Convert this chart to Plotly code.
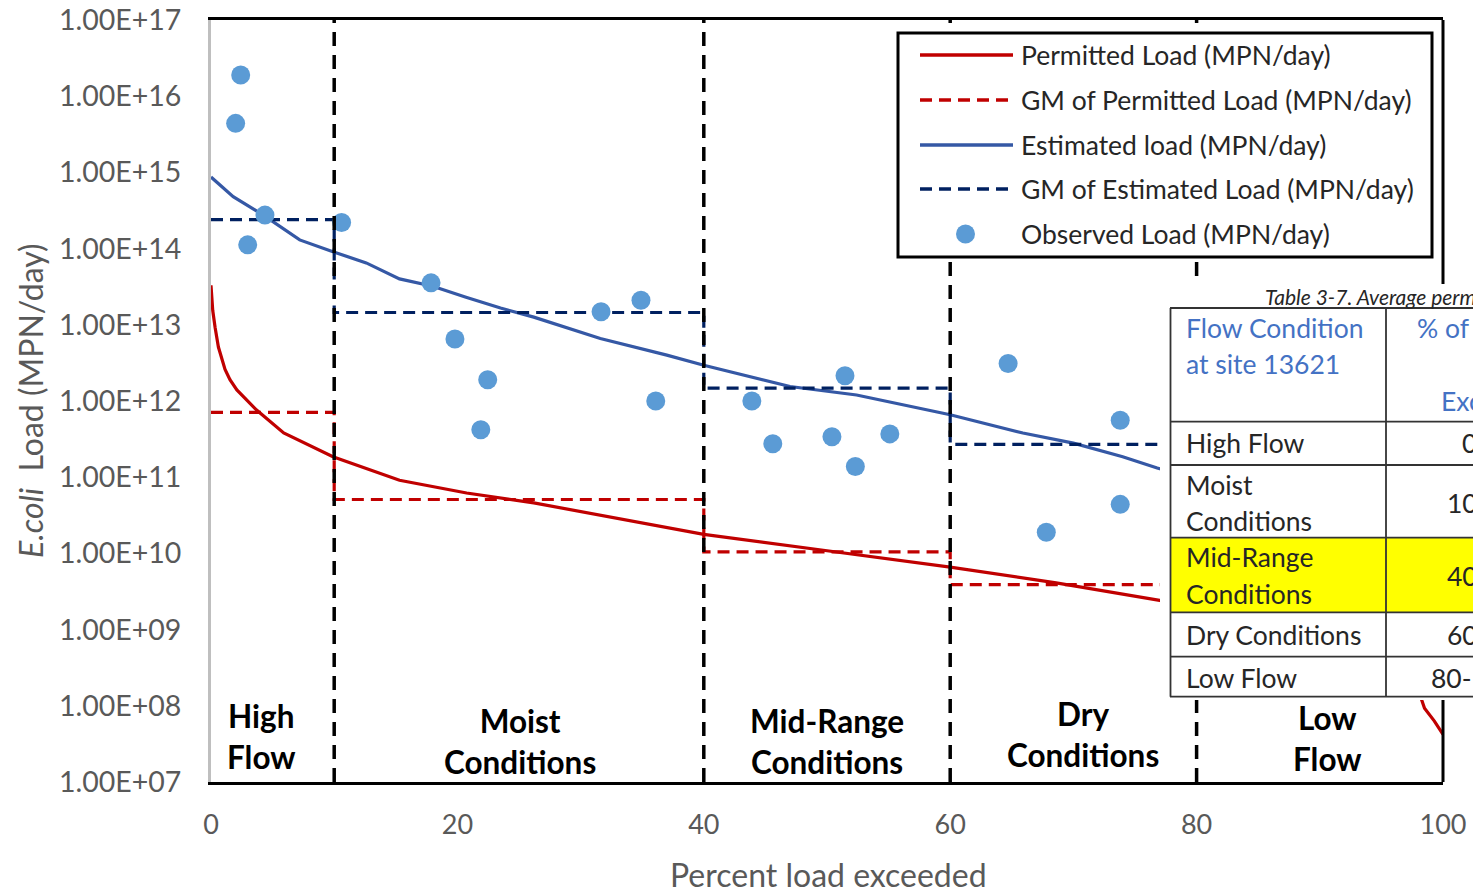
import plotly.graph_objects as go

# ---------------- data ----------------
pct_est = [0, 1.8, 4.25, 7.2, 9.9, 12.6, 15.3, 18.0, 20.7, 23.5, 26.2, 31.6, 37.0, 40.0,
           47.0, 52.4, 60.0, 65.9, 70.0, 74.0, 76.8, 80, 85, 90, 95, 100]
est_load = [8.7e14, 4.8e14, 2.75e14, 1.3e14, 9.1e13, 6.5e13, 4.0e13, 3.2e13, 2.3e13, 1.66e13,
            1.26e13, 6.6e12, 4.0e12, 2.95e12, 1.55e12, 1.2e12, 6.6e11, 3.8e11, 2.8e11,
            1.86e11, 1.32e11, 9.5e10, 5.0e10, 2.5e10, 1.0e10, 1.6e9]

pct_perm = [0, 0.14, 0.33, 0.6, 1.14, 1.54, 2.1, 3.7, 5.9, 9.9, 15.3, 20.75, 26.2, 31.6, 37.0,
            40.0, 49.7, 60.0, 68.6, 76.8, 80, 85, 90, 95, 98, 98.5, 99.3, 100]
perm_load = [3.3e13, 1.55e13, 9.3e12, 5.1e12, 2.6e12, 1.9e12, 1.4e12, 7.6e11, 3.8e11, 1.86e11,
             9.1e10, 6.2e10, 4.6e10, 3.2e10, 2.2e10, 1.78e10, 1.1e10, 6.6e9, 4.1e9, 2.45e9,
             2.0e9, 1.26e9, 7.1e8, 3.5e8, 1.6e8, 9.3e7, 6.3e7, 4.2e7]

gm_edges = [0, 10, 40, 60, 80, 100]
gm_est = [2.4e14, 1.45e13, 1.48e12, 2.7e11, 1.0e10]
gm_perm = [7.1e11, 5.1e10, 1.05e10, 3.9e9, 4.0e8]

obs_pct = [2.41, 2.0, 4.38, 2.98, 10.6, 17.86, 19.8, 22.46, 21.9, 31.66, 34.9, 36.1,
           43.9, 45.6, 51.46, 50.4, 52.3, 55.1, 64.7, 67.8, 73.8, 73.8]
obs_load = [1.9e16, 4.4e15, 2.75e14, 1.12e14, 2.2e14, 3.55e13, 6.5e12, 1.9e12, 4.2e11,
            1.48e13, 2.1e13, 1.0e12, 1.0e12, 2.75e11, 2.15e12, 3.4e11, 1.38e11, 3.7e11,
            3.1e12, 1.9e10, 5.6e11, 4.4e10]

boundaries = [10, 40, 60, 80]
region_names = ["High<br>Flow", "Moist<br>Conditions", "Mid-Range<br>Conditions",
                "Dry<br>Conditions", "Low<br>Flow"]
region_centers = [4.1, 25.1, 50.0, 70.8, 90.6]

y_exponents = list(range(7, 18))
x_ticks = [0, 20, 40, 60, 80, 100]

legend_names = ["Permitted Load (MPN/day)", "GM of Permitted Load (MPN/day)",
                "Estimated load (MPN/day)", "GM of Estimated Load (MPN/day)",
                "Observed Load (MPN/day)"]

table_caption = "Table 3-7. Average permitted loads"
table_header = ["Flow Condition", "at site 13621"]
table_header2 = ["% of", "Exceeded"]
table_rows = [["High Flow"], ["Moist", "Conditions"], ["Mid-Range", "Conditions"],
              ["Dry Conditions"], ["Low Flow"]]
table_ranges = ["0-10", "10-40", "40-60", "60-80", "80-100"]

# ---------------- styles ----------------
RED = "#C00000"
BLUE = "#3558A5"
NAVY = "#002060"
DOT = "#5B9BD5"
AX = "#595959"
TXT = "#262626"
FONT = "Lato, 'Open Sans', sans-serif"
GMDASH = "12px,7px"

W, H = 1473, 893
L, R, T, B = 211, 30, 20, 111
PW, PH = W - L - R, H - T - B


def px(x):
    return (x - L) / PW


def py(y):
    return 1 - (y - T) / PH


fig = go.Figure()
fig.add_trace(go.Scatter(x=pct_perm, y=perm_load, mode="lines", name=legend_names[0],
                         line=dict(color=RED, width=3.2)))
fig.add_trace(go.Scatter(x=gm_edges, y=gm_perm + [gm_perm[-1]], mode="lines", name=legend_names[1],
                         line=dict(color=RED, width=3.2, dash=GMDASH, shape="hv")))
fig.add_trace(go.Scatter(x=pct_est, y=est_load, mode="lines", name=legend_names[2],
                         line=dict(color=BLUE, width=3.2)))
fig.add_trace(go.Scatter(x=gm_edges, y=gm_est + [gm_est[-1]], mode="lines", name=legend_names[3],
                         line=dict(color=NAVY, width=3.2, dash=GMDASH, shape="hv")))
fig.add_trace(go.Scatter(x=obs_pct, y=obs_load, mode="markers", name=legend_names[4],
                         marker=dict(color=DOT, size=19, line=dict(width=0))))

shapes = []
for b in boundaries:
    shapes.append(dict(type="line", xref="x", yref="paper", x0=b, x1=b, y0=0, y1=1,
                       line=dict(color="black", width=3.5, dash="14px,9px"), layer="above"))
shapes.append(dict(type="line", xref="paper", yref="paper", x0=1, x1=1, y0=0, y1=1,
                   line=dict(color="black", width=3), layer="above"))
shapes.append(dict(type="rect", xref="paper", yref="paper", x0=px(898), x1=px(1432),
                   y0=py(257), y1=py(33), fillcolor="white",
                   line=dict(color="black", width=3), layer="above"))
leg_y = [55, 100, 145, 189, 234]
leg_styles = [(RED, None), (RED, GMDASH), (BLUE, None), (NAVY, GMDASH)]
for (c, d), yy in zip(leg_styles, leg_y):
    ln = dict(color=c, width=3.5)
    if d:
        ln["dash"] = d
    shapes.append(dict(type="line", xref="paper", yref="paper", x0=px(920), x1=px(1013),
                       y0=py(yy), y1=py(yy), line=ln, layer="above"))
shapes.append(dict(type="circle", xref="paper", yref="paper", x0=px(956), x1=px(975),
                   y0=py(leg_y[4] + 9.5), y1=py(leg_y[4] - 9.5), fillcolor=DOT,
                   line=dict(width=0), layer="above"))

shapes.append(dict(type="rect", xref="paper", yref="paper", x0=px(1160), x1=px(1490),
                   y0=py(700), y1=py(284), fillcolor="white", line=dict(width=0), layer="above"))
shapes.append(dict(type="rect", xref="paper", yref="paper", x0=px(1170), x1=px(1490),
                   y0=py(612), y1=py(538), fillcolor="#FFFF00", line=dict(width=0), layer="above"))
for yy in [308, 421.7, 465, 537.7, 612.3, 656.7, 696.7]:
    shapes.append(dict(type="line", xref="paper", yref="paper", x0=px(1170), x1=px(1490),
                       y0=py(yy), y1=py(yy), line=dict(color="#333333", width=1.8), layer="above"))
for xx in [1170.5, 1386]:
    shapes.append(dict(type="line", xref="paper", yref="paper", x0=px(xx), x1=px(xx),
                       y0=py(308), y1=py(696.7), line=dict(color="#333333", width=1.8), layer="above"))

ann = []
for name, yy in zip(legend_names, leg_y):
    ann.append(dict(xref="paper", yref="paper", x=px(1019), y=py(yy), xanchor="left",
                    yanchor="middle", text=name, showarrow=False,
                    font=dict(family=FONT, size=26.5, color=TXT)))
label_y = [736, 741, 741, 734, 738]
for name, cx, yy in zip(region_names, region_centers, label_y):
    ann.append(dict(xref="x", yref="paper", x=cx, y=py(yy), xanchor="center", yanchor="middle",
                    text="<b>" + name + "</b>", showarrow=False,
                    font=dict(family=FONT, size=31.5, color="black")))
ann.append(dict(xref="paper", yref="paper", x=px(828), y=py(874), xanchor="center",
                yanchor="middle", text="Percent load exceeded", showarrow=False,
                font=dict(family=FONT, size=32, color=AX)))
ann.append(dict(xref="paper", yref="paper", x=px(30), y=py(401), xanchor="center",
                yanchor="middle", text="<i>E.coli</i>  Load (MPN/day)", textangle=-90,
                showarrow=False, font=dict(family=FONT, size=32, color=AX)))
ann.append(dict(xref="paper", yref="paper", x=px(1263), y=py(296), xanchor="left", yanchor="middle",
                text="<i>" + table_caption + "</i>", showarrow=False,
                font=dict(family=FONT, size=21, color=TXT)))
for t, yy in zip(table_header, [328, 364]):
    ann.append(dict(xref="paper", yref="paper", x=px(1184), y=py(yy), xanchor="left",
                    yanchor="middle", text=t, showarrow=False,
                    font=dict(family=FONT, size=26.5, color="#4472C4")))
for t, xx, yy in zip(table_header2, [1415, 1439], [328, 401]):
    ann.append(dict(xref="paper", yref="paper", x=px(xx), y=py(yy), xanchor="left",
                    yanchor="middle", text=t, showarrow=False,
                    font=dict(family=FONT, size=26.5, color="#4472C4")))
row_line_y = [[443], [485, 521], [557, 594], [635], [678]]
for lines, ys in zip(table_rows, row_line_y):
    for t, yy in zip(lines, ys):
        ann.append(dict(xref="paper", yref="paper", x=px(1184), y=py(yy), xanchor="left",
                        yanchor="middle", text=t, showarrow=False,
                        font=dict(family=FONT, size=26.5, color=TXT)))
range_x = [1460, 1445, 1445, 1445, 1429]
range_y = [443, 503, 576, 635, 678]
for t, xx, yy in zip(table_ranges, range_x, range_y):
    ann.append(dict(xref="paper", yref="paper", x=px(xx), y=py(yy), xanchor="left",
                    yanchor="middle", text=t, showarrow=False,
                    font=dict(family=FONT, size=26.5, color=TXT)))

fig.update_layout(
    width=W, height=H, autosize=False,
    margin=dict(l=L, r=R, t=T, b=B, pad=0, autoexpand=False),
    paper_bgcolor="white", plot_bgcolor="white",
    showlegend=False,
    shapes=shapes, annotations=ann,
    font=dict(family=FONT, color=AX),
)
fig.update_xaxes(range=[0, 100], tickvals=x_ticks, ticktext=[str(v) for v in x_ticks],
                 showgrid=False, zeroline=False, showline=True, mirror=True, automargin=False,
                 linecolor="black", linewidth=3, ticks="", ticklabelstandoff=17,
                 tickfont=dict(family=FONT, size=27, color=AX))
fig.update_yaxes(type="log", range=[7, 17], tickvals=[10 ** e for e in y_exponents],
                 ticktext=["1.00E+%02d" % e for e in y_exponents], automargin=False,
                 showgrid=False, zeroline=False, showline=True, linecolor="#BFBFBF",
                 linewidth=3, ticks="", ticklabelstandoff=21,
                 tickfont=dict(family=FONT, size=28.5, color=AX))

fig.write_html("out.html", config={"displayModeBar": False},
               post_script="document.body.style.margin='0';document.body.style.overflow='hidden';")
